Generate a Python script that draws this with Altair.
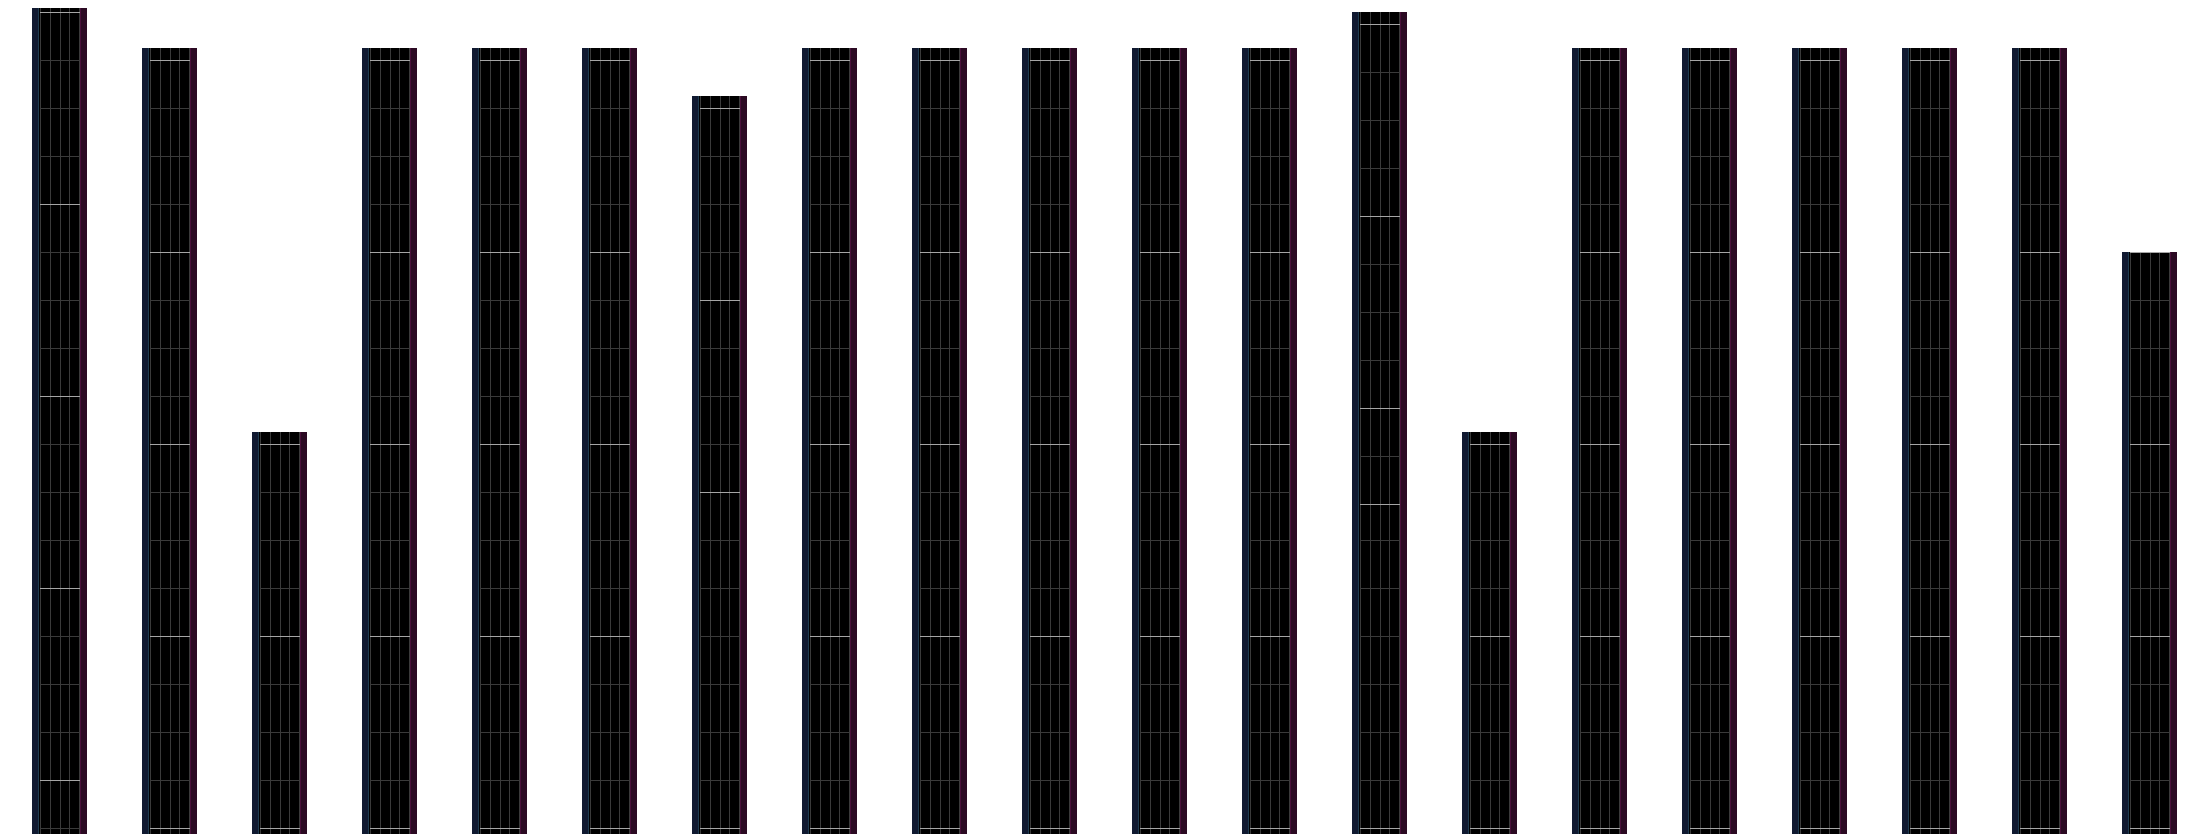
import altair as alt
import pandas as pd

# ---- values -----------------------------------------------------------
columns = list(range(20))
tops = [69, 65, 33, 65, 65, 65, 61, 65, 65, 65, 65, 65, 68, 33, 65, 65, 65, 65, 65, 48]
major_lines = [
    [68, 52, 36, 20, 4],
    [64, 48, 32, 16, 0],
    [32, 16, 0],
    [64, 48, 32, 16, 0],
    [64, 48, 32, 16, 0],
    [64, 48, 32, 16, 0],
    [60, 44, 28, 0],
    [64, 48, 32, 16, 0],
    [64, 48, 32, 16, 0],
    [64, 48, 32, 16, 0],
    [64, 48, 32, 16, 0],
    [64, 48, 32, 16, 0],
    [67, 51, 35, 27, 0],
    [32, 16, 0],
    [64, 48, 32, 16, 0],
    [64, 48, 32, 16, 0],
    [64, 48, 32, 16, 0],
    [64, 48, 32, 16, 0],
    [64, 48, 32, 16, 0],
    [48, 32, 16, 0],
]
grid_step = 4
grid_phase_low = [0] * 20
grid_break = [None] * 12 + [26] + [None] * 7
grid_phase_high = [0] * 12 + [3] + [0] * 7

# ---- tables -------------------------------------------------------------
bars = pd.DataFrame({"col": columns, "top": tops})

maj_rows, min_rows = [], []
for c, t, majors, brk, ph_lo, ph_hi in zip(columns, tops, major_lines, grid_break,
                                           grid_phase_low, grid_phase_high):
    for v in majors:
        maj_rows.append({"col": c, "v": v})
    for v in range(0, t):
        phase = ph_hi if (brk is not None and v > brk) else ph_lo
        if v % grid_step == phase and v not in majors:
            min_rows.append({"col": c, "v": v})
majors_df = pd.DataFrame(maj_rows)
minors_df = pd.DataFrame(min_rows)

# ---- geometry (style) ----------------------------------------------------
PITCH = 110.0
W, H = 2180, 826
XDOM = [-24 / PITCH, (W - 24) / PITCH]
YDOM = [-0.5, 820 / 12]
BASE = -0.5

xs = alt.Scale(domain=XDOM, nice=False, zero=False)
ys = alt.Scale(domain=YDOM, nice=False, zero=False)


def rect_layer(x0, x1, color):
    return (
        alt.Chart(bars)
        .transform_calculate(xa=f"datum.col + {x0 / PITCH}", xb=f"datum.col + {x1 / PITCH}")
        .mark_rect(color=color, clip=True)
        .encode(
            x=alt.X("xa:Q", scale=xs, axis=None),
            x2="xb:Q",
            y=alt.Y("top:Q", scale=ys, axis=None),
            y2=alt.datum(BASE),
        )
    )


body = rect_layer(7, 48, "#000000")
blue = rect_layer(0, 7, "#111a31")
mag = rect_layer(48, 55, "#2b0a22")


def vline(off, color, width=1):
    return (
        alt.Chart(bars)
        .transform_calculate(xa=f"datum.col + {off / PITCH}")
        .mark_rule(color=color, strokeWidth=width, xOffset=0.5, clip=True)
        .encode(
            x=alt.X("xa:Q", scale=xs, axis=None),
            y=alt.Y("top:Q", scale=ys, axis=None),
            y2=alt.datum(BASE),
        )
    )


blue_edge = vline(6, "#1f3d52")
mag_edge = vline(48, "#4a0f3a")
vgrid = [vline(o, "#3a3a3a") for o in (8, 18, 28, 37, 47)]


def hlines(df, color):
    return (
        alt.Chart(df)
        .transform_calculate(xa=f"datum.col + {8 / PITCH}", xb=f"datum.col + {48 / PITCH}")
        .mark_rule(color=color, strokeWidth=1, yOffset=0.5, clip=True)
        .encode(
            x=alt.X("xa:Q", scale=xs, axis=None),
            x2="xb:Q",
            y=alt.Y("v:Q", scale=ys, axis=None),
        )
    )


minor = hlines(minors_df, "#3a3a3a")
major = hlines(majors_df, "#a6a6a6")

chart = (
    alt.layer(body, blue, mag, blue_edge, mag_edge, *vgrid, minor, major)
    .properties(width=W, height=H, padding=0)
    .configure_view(stroke=None)
)

chart.save("out.html", embed_options={"renderer": "svg", "actions": False})
